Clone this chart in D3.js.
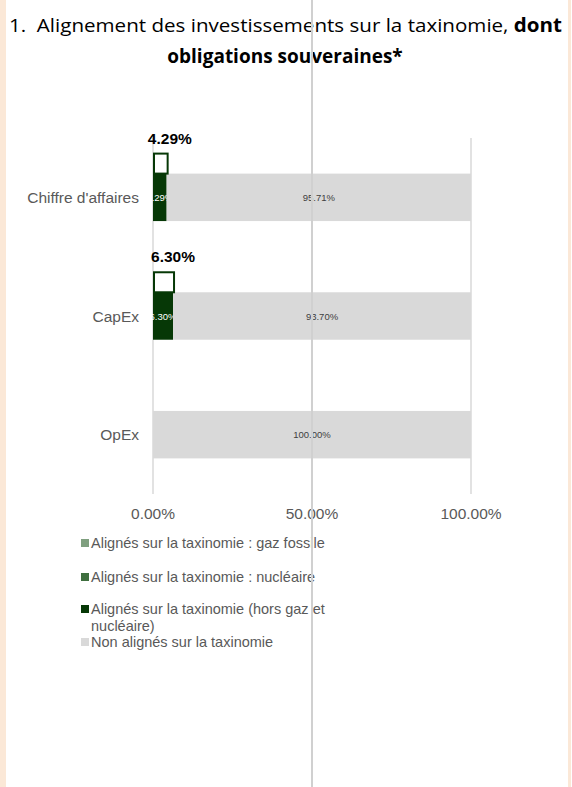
<!DOCTYPE html>
<html>
<head>
<meta charset="utf-8">
<script src="https://cdn.jsdelivr.net/npm/d3@7"></script>
<style>
  html, body { margin: 0; padding: 0; background: #fff; }
  svg { display: block; }
</style>
</head>
<body>
<div id="chart"></div>
<script>
// Values (percent)
const categories = ["Chiffre d'affaires", 'CapEx', 'OpEx'];
const gazFossile = [0, 0, 0];
const nucleaire = [0, 0, 0];
const horsGazNucleaire = [4.29, 6.30, 0];
const nonAlignes = [95.71, 93.70, 100.00];
const totalAligne = [4.29, 6.30, 0];
const xTicks = [0, 50, 100];
const seriesNames = [
    'Alignés sur la taxinomie : gaz fossile',
    'Alignés sur la taxinomie : nucléaire',
    'Alignés sur la taxinomie (hors gaz et nucléaire)',
    'Non alignés sur la taxinomie'
];
const seriesColors = ['#7f9f7f', '#3f6f3f', '#063806', '#d9d9d9'];

let width = 572, height = 787;
let labelFont = '"Liberation Sans", Arial, sans-serif';
let titleFont = '"Open Sans", Lato, sans-serif';

let svg = d3.select('#chart').append('svg')
    .attr('width', width)
    .attr('height', height);

// page strips
svg.append('rect').attr('x', 0).attr('y', 0).attr('width', 6).attr('height', height).style('fill', '#fbe8d7');
svg.append('rect').attr('x', 568).attr('y', 0).attr('width', 3).attr('height', height).style('fill', '#fbe8d7');

// title
let title = svg.append('text')
    .attr('x', 9)
    .attr('y', 32)
    .attr('textLength', 553)
    .attr('lengthAdjust', 'spacingAndGlyphs')
    .style('font-family', titleFont)
    .style('font-size', '19px')
    .style('fill', '#000')
    .style('white-space', 'pre');
title.append('tspan').text('1.  Alignement des investissements sur la taxinomie, ');
title.append('tspan').style('font-weight', 'bold').text('dont');

svg.append('text')
    .attr('x', 285)
    .attr('y', 63)
    .attr('text-anchor', 'middle')
    .style('font-family', titleFont)
    .style('font-size', '19px')
    .style('font-weight', 'bold')
    .style('fill', '#000')
    .text('obligations souveraines*');

let x = d3.scaleLinear()
    .domain([0, 100])
    .range([153, 471]);

let y = d3.scaleBand()
    .domain(categories)
    .range([138, 494])
    .paddingInner(0.6)
    .paddingOuter(0.3);

// gridlines
svg.append('g')
    .selectAll('line')
    .data(xTicks)
    .enter()
    .append('line')
    .attr('x1', d => x(d))
    .attr('x2', d => x(d))
    .attr('y1', 138)
    .attr('y2', 494)
    .style('stroke', '#d9d9d9')
    .style('stroke-width', 1.5);

// x tick labels
svg.append('g')
    .selectAll('text')
    .data(xTicks)
    .enter()
    .append('text')
    .attr('x', d => x(d))
    .attr('y', 519)
    .attr('text-anchor', 'middle')
    .style('font-family', labelFont)
    .style('font-size', '15.5px')
    .style('fill', '#595959')
    .text(d => d.toFixed(2) + '%');

// category labels
svg.append('g')
    .selectAll('text')
    .data(categories)
    .enter()
    .append('text')
    .attr('x', 139)
    .attr('y', d => y(d) + y.bandwidth() / 2 + 5.5)
    .attr('text-anchor', 'end')
    .style('font-family', labelFont)
    .style('font-size', '15.5px')
    .style('fill', '#595959')
    .text(d => d);

// stacked bars
let stackData = categories.map((c, i) => ({
    cat: c,
    gaz: gazFossile[i],
    nuc: nucleaire[i],
    hors: horsGazNucleaire[i],
    non: nonAlignes[i]
}));
let keys = ['gaz', 'nuc', 'hors', 'non'];
let stacked = d3.stack().keys(keys)(stackData);

let layers = svg.append('g')
    .selectAll('g')
    .data(stacked)
    .enter()
    .append('g')
    .style('fill', (d, i) => seriesColors[i]);

layers.selectAll('rect')
    .data(d => d.filter(s => s[1] - s[0] > 0))
    .enter()
    .append('rect')
    .attr('x', d => x(d[0]))
    .attr('y', d => y(d.data.cat))
    .attr('width', d => x(d[1]) - x(d[0]))
    .attr('height', y.bandwidth());

layers.each(function(layer, li) {
    d3.select(this).selectAll('text')
        .data(layer.filter(s => s[1] - s[0] > 0))
        .enter()
        .append('text')
        .attr('x', d => (x(d[0]) + x(d[1])) / 2)
        .attr('y', d => y(d.data.cat) + y.bandwidth() / 2 + 3.5)
        .attr('text-anchor', 'middle')
        .style('font-family', labelFont)
        .style('font-size', '9.5px')
        .style('fill', li === 2 ? '#fff' : '#404040')
        .text(d => (d[1] - d[0]).toFixed(2) + '%');
});

// total aligned (outlined box above the bar)
let totals = svg.append('g')
    .selectAll('g')
    .data(categories.map((c, i) => ({ cat: c, v: totalAligne[i] })).filter(d => d.v > 0))
    .enter()
    .append('g');

totals.append('rect')
    .attr('x', x(0) + 1)
    .attr('y', d => y(d.cat) - 20)
    .attr('width', d => x(d.v) - x(0))
    .attr('height', 20)
    .style('fill', '#fff')
    .style('stroke', '#063806')
    .style('stroke-width', 2);

totals.append('text')
    .attr('x', d => x(0) + (x(d.v) - x(0)) / 2 + 10)
    .attr('y', d => y(d.cat) - 30)
    .attr('text-anchor', 'middle')
    .style('font-family', labelFont)
    .style('font-size', '15.5px')
    .style('font-weight', 'bold')
    .style('fill', '#000')
    .text(d => d.v.toFixed(2) + '%');

// legend
let legendRows = [
    { lines: [seriesNames[0]], y: 543 },
    { lines: [seriesNames[1]], y: 577 },
    { lines: ['Alignés sur la taxinomie (hors gaz et', 'nucléaire)'], y: 609 },
    { lines: [seriesNames[3]], y: 642 }
];

let legend = svg.append('g')
    .selectAll('g')
    .data(legendRows)
    .enter()
    .append('g');

legend.append('rect')
    .attr('x', 81)
    .attr('y', d => d.y - 4)
    .attr('width', 8)
    .attr('height', 8)
    .style('fill', (d, i) => seriesColors[i]);

legend.each(function(d) {
    d3.select(this).selectAll('text')
        .data(d.lines)
        .enter()
        .append('text')
        .attr('x', 91)
        .attr('y', (t, j) => d.y + 5 + j * 16.5)
        .style('font-family', labelFont)
        .style('font-size', '14.5px')
        .style('fill', '#595959')
        .text(t => t);
});

// page split line
svg.append('line')
    .attr('x1', 312).attr('x2', 312)
    .attr('y1', 0).attr('y2', height)
    .style('stroke', '#d0d0d0')
    .style('stroke-width', 2);
</script>
</body>
</html>
